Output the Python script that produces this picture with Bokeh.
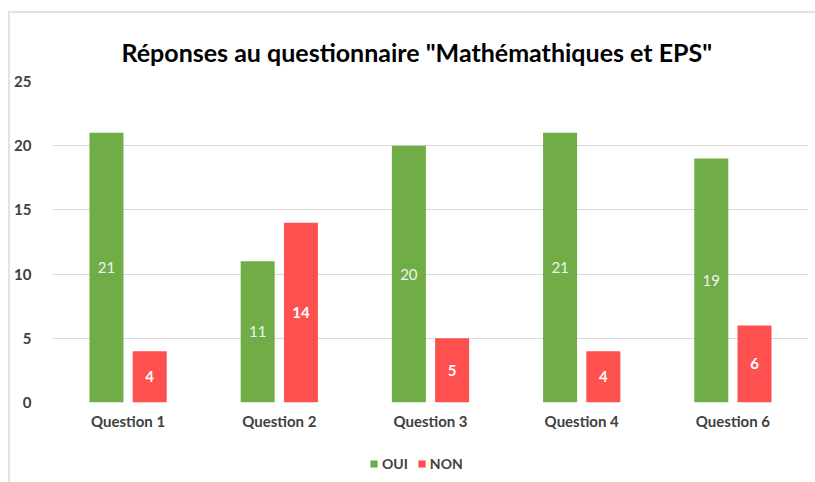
from bokeh.plotting import figure
from bokeh.models import ColumnDataSource, FactorRange, Range1d, Legend, LegendItem, LabelSet, Title, Spacer
from bokeh.layouts import column, row
from bokeh.core.properties import value
from bokeh.transform import dodge
from bokeh.embed import file_html
from bokeh.resources import INLINE

questions = ["Question 1", "Question 2", "Question 3", "Question 4", "Question 6"]
oui = [21, 11, 20, 21, 19]
non = [4, 14, 5, 4, 6]
series_names = ["OUI", "NON"]
title_text = 'Réponses au questionnaire "Mathémathiques et EPS"'

GREEN = "#70AD47"
RED = "#FF5050"
FONT = "Lato"
FRAME = "#E3E3E3"

src = ColumnDataSource(dict(
    q=questions, oui=oui, non=non,
    oui_mid=[v / 2 for v in oui], non_mid=[v / 2 for v in non],
    oui_lbl=[str(v) for v in oui], non_lbl=[str(v) for v in non],
))

xr = FactorRange(*questions, range_padding=0)
p = figure(x_range=xr, y_range=Range1d(0, 25),
           width=799, height=429, output_backend="svg", toolbar_location=None,
           min_border_left=42, min_border_right=1, min_border_top=68, min_border_bottom=40)

t = Title(text=title_text, align="left", text_font=FONT, text_font_size="25px",
          text_font_style="bold", text_color="#000000", standoff=30, offset=69)
p.add_layout(t, "above")

p.vbar(x=dodge("q", -0.143, range=xr), top="oui", width=0.225, source=src,
       fill_color=GREEN, line_color=None)
p.vbar(x=dodge("q", 0.143, range=xr), top="non", width=0.225, source=src,
       fill_color=RED, line_color=None)

p.add_layout(LabelSet(x=dodge("q", -0.143, range=xr), y="oui_mid", text="oui_lbl", source=src,
                      text_align="center", text_baseline="middle", text_color="#F2F2F2",
                      text_font=value(FONT), text_font_size="15px"))
p.add_layout(LabelSet(x=dodge("q", 0.143, range=xr), y="non_mid", text="non_lbl", source=src,
                      text_align="center", text_baseline="middle", text_color="#FFFFFF",
                      text_font=value(FONT), text_font_size="15px", text_font_style="bold"))

p.xgrid.grid_line_color = None
p.ygrid.grid_line_color = "#D9D9D9"
p.ygrid.grid_line_width = 1
p.yaxis.ticker = [0, 5, 10, 15, 20, 25]
for ax in (p.xaxis[0], p.yaxis[0]):
    ax.axis_line_color = None
    ax.major_tick_line_color = None
    ax.minor_tick_line_color = None
    ax.major_label_text_font = FONT
    ax.major_label_text_font_size = "15px"
    ax.major_label_text_font_style = "bold"
    ax.major_label_text_color = "#404040"
p.yaxis.major_label_standoff = 15
p.xaxis.major_label_standoff = 3
p.outline_line_color = None

# legend strip (its bars lie outside its visible y range, only the legend shows)
lp = figure(x_range=xr, y_range=Range1d(100, 101), width=799, height=40,
            output_backend="svg", toolbar_location=None,
            x_axis_location=None, y_axis_location=None,
            min_border_left=0, min_border_right=0, min_border_top=0, min_border_bottom=0)
lp.grid.visible = False
lp.outline_line_color = None
l1 = lp.vbar(x=dodge("q", -0.143, range=xr), top="oui", width=0.225, source=src,
             fill_color=GREEN, line_color=None)
l2 = lp.vbar(x=dodge("q", 0.143, range=xr), top="non", width=0.225, source=src,
             fill_color=RED, line_color=None)
legend = Legend(items=[LegendItem(label=series_names[0], renderers=[l1]),
                       LegendItem(label=series_names[1], renderers=[l2])],
                orientation="horizontal", location=(317, 10),
                label_text_font=FONT, label_text_font_size="14px", label_text_font_style="bold",
                label_text_color="#404040", glyph_width=9, glyph_height=9,
                label_height=16, label_standoff=4, spacing=9,
                border_line_color=None, background_fill_alpha=0,
                padding=2, margin=0)
lp.add_layout(legend, "center")

# light chart-area frame (top and left edges)
top_edge = Spacer(width=805, height=2, styles={"background-color": FRAME})
left_edge = Spacer(width=2, height=471, styles={"background-color": FRAME})
inner = column(top_edge, p, lp, spacing=0)
layout = column(Spacer(width=10, height=11),
                row(Spacer(width=8, height=10), left_edge, inner, spacing=0),
                spacing=0)
open("out.html", "w").write(file_html(layout, INLINE))
